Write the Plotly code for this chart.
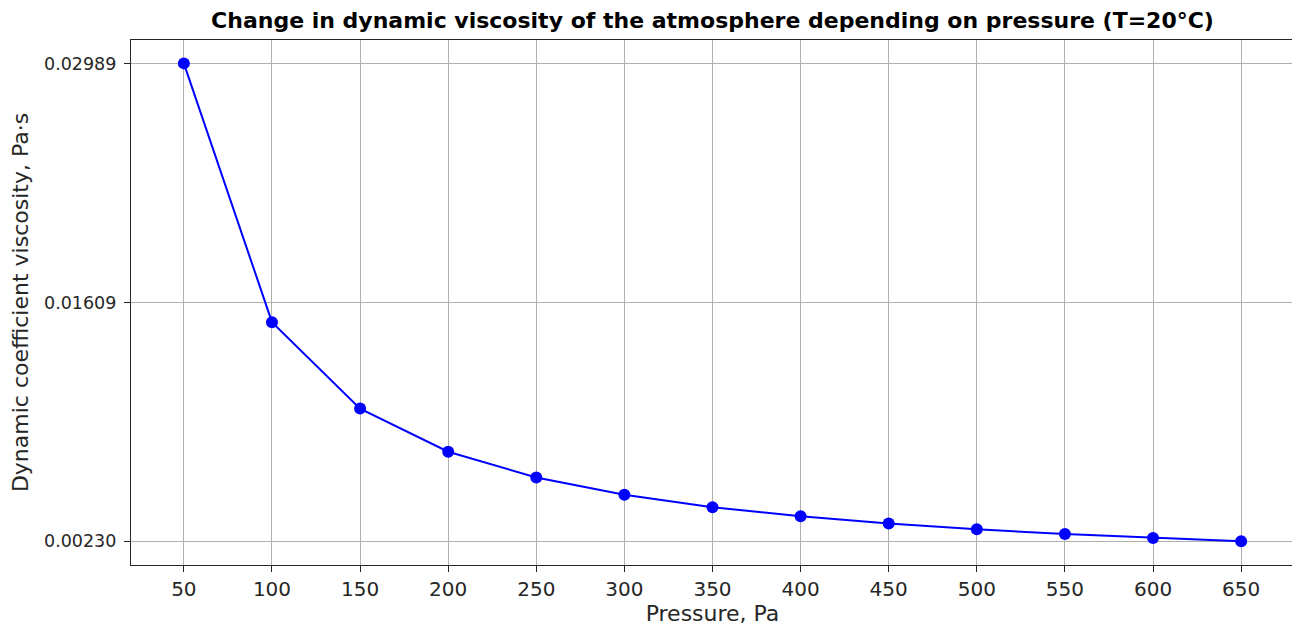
import plotly.graph_objects as go

pressure = [50, 100, 150, 200, 250, 300, 350, 400, 450, 500, 550, 600, 650]
viscosity = [0.02989, 0.01495, 0.00996, 0.00747, 0.00598, 0.00498, 0.00427,
             0.00374, 0.00332, 0.00299, 0.00272, 0.00249, 0.00230]
y_tick_vals = [0.00230, 0.01609, 0.02989]
y_tick_text = ["0.00230", "0.01609", "0.02989"]

FONT = "DejaVu Sans"
W, H = 1292, 626  # page adds an 8px body margin

fig = go.Figure()
fig.add_trace(go.Scatter(
    x=pressure, y=viscosity, mode="lines+markers",
    line=dict(color="#0000ff", width=2),
    marker=dict(color="#0000ff", size=12),
    showlegend=False,
))

axis_common = dict(
    showline=True, linecolor="#262626", linewidth=1.2, mirror=True,
    ticks="outside", ticklen=6, tickwidth=1.2, tickcolor="#262626",
    showgrid=True, gridcolor="#b0b0b0", gridwidth=1, zeroline=False,
    automargin=False,
)

fig.update_layout(
    width=W, height=H,
    paper_bgcolor="white", plot_bgcolor="white",
    margin=dict(l=123, r=6, t=32, b=69, pad=0),
    font=dict(family=FONT, color="#262626"),
    title=dict(
        text="<b>Change in dynamic viscosity of the atmosphere depending on pressure (T=20°C)</b>",
        x=(123 + W - 6) / 2 / W, xref="container", xanchor="center",
        y=1 - 12 / H, yref="container", yanchor="middle",
        font=dict(family=FONT, size=22, color="black"),
        automargin=False,
    ),
    xaxis=dict(
        **axis_common, range=[20, 680], tickmode="array", tickvals=pressure,
        tickfont=dict(size=20, family=FONT, color="#262626"),
        title=dict(text="Pressure, Pa", font=dict(size=22, family=FONT, color="#262626"), standoff=3),
    ),
    yaxis=dict(
        **axis_common, range=[0.00093, 0.03124], tickmode="array",
        tickvals=y_tick_vals, ticktext=y_tick_text, ticklabelstandoff=4,
        tickfont=dict(size=17.5, family=FONT, color="#262626"),
        title=dict(text="Dynamic coefficient viscosity, Pa·s", font=dict(size=22, family=FONT, color="#262626"), standoff=13),
    ),
)

fig.write_html("out.html")
